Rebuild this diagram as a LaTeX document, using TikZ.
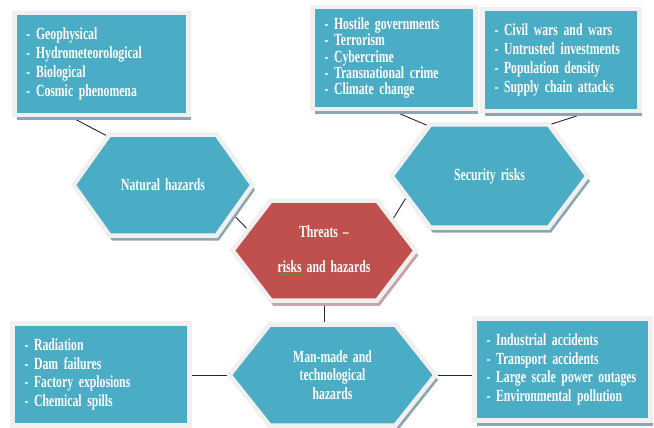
\documentclass[tikz,border=0pt]{standalone}
\usepackage{fontspec}
\setmainfont{Liberation Serif}[FakeStretch=0.69,WordSpace=1.7]
\usetikzlibrary{shapes.symbols}
\usetikzlibrary{shadows}
\usetikzlibrary{backgrounds}
\definecolor{hazteal}{HTML}{4BACC6}
\definecolor{hazred}{HTML}{C0504D}
\definecolor{hazshade}{HTML}{8DA6B3}
\definecolor{redshade}{HTML}{C9A3A3}
\definecolor{hazframe}{HTML}{F0F0F0}
\definecolor{hazline}{HTML}{6B8E23}

\begin{document}
\begin{tikzpicture}[x=1pt, y=-1pt,
    every node/.style={text=white, font=\bfseries\fontsize{17}{19}\selectfont},
    framed/.style={draw=hazframe, line width=4.5pt, fill=hazteal,
        drop shadow={shadow xshift=2.5pt, shadow yshift=-5pt, fill=hazshade, opacity=1}},
    listbox/.style={framed, rectangle, align=left, text width=#1, inner xsep=12pt, minimum height=102pt},
    hexbox/.style={framed, signal, signal to=east and west, signal pointer angle=106, align=center},
    link/.style={line width=0.9pt, black!85}]
    \useasboundingbox (0,0) rectangle (654,428);
    % lists
    \node[listbox=150pt] (natbox) at (101.5,64) {- Geophysical\\- Hydrometeorological\\- Biological\\- Cosmic phenomena};
    \node[listbox=139pt, font=\bfseries\fontsize{17}{16.3}\selectfont] (hostbox) at (394,58) {- Hostile governments\\- Terrorism\\- Cybercrime\\- Transnational crime\\- Climate change};
    \node[listbox=133pt] (civbox) at (561,60) {- Civil wars and wars\\- Untrusted investments\\- Population density\\- Supply chain attacks};
    \node[listbox=153pt, font=\bfseries\fontsize{17}{18.7}\selectfont] (radbox) at (101,374.5) {- Radiation\\- Dam failures\\- Factory explosions\\- Chemical spills};
    \node[listbox=152pt, font=\bfseries\fontsize{17}{18.4}\selectfont] (indbox) at (562.5,369.5) {- Industrial accidents\\- Transport accidents\\- Large scale power outages\\- Environmental pollution};
    % hexagons
    \node[hexbox, minimum width=179pt, minimum height=101pt, signal pointer angle=109] (nathex) at (163,185) {Natural hazards};
    \node[hexbox, minimum width=196pt, minimum height=103pt] (sechex) at (489.5,176) {Security risks};
    \node[hexbox, fill=hazred, minimum width=183pt, minimum height=100pt, signal pointer angle=105,
        drop shadow={shadow xshift=2.5pt, shadow yshift=-5pt, fill=redshade, opacity=1}] (threat) at (324,250.5)
        {Threats --\\[16pt]{\color{hazline}\underline{\textcolor{white}{risks}}} and hazards};
    \node[hexbox, minimum width=206pt, minimum height=101pt, signal pointer angle=103,
        font=\bfseries\fontsize{17}{18.5}\selectfont] (manhex) at (332.5,375) {Man-made and\\technological\\hazards};
    % connectors
    \begin{scope}[on background layer]
        \draw[link] ([xshift=-30pt]natbox.south) -- (nathex.139);
        \draw[link] (hostbox.south) -- (sechex.141);
        \draw[link] ([xshift=24pt]civbox.south) -- (sechex.40);
        \draw[link] (nathex.-23) -- (threat.164);
        \draw[link] (threat.25) -- (sechex.195);
        \draw[link] (threat.south) -- (threat.south |- manhex.north);
        \draw[link] (manhex.west) -- (manhex.west -| radbox.east);
        \draw[link] (manhex.east) -- (manhex.east -| indbox.west);
    \end{scope}
\end{tikzpicture}
\end{document}
